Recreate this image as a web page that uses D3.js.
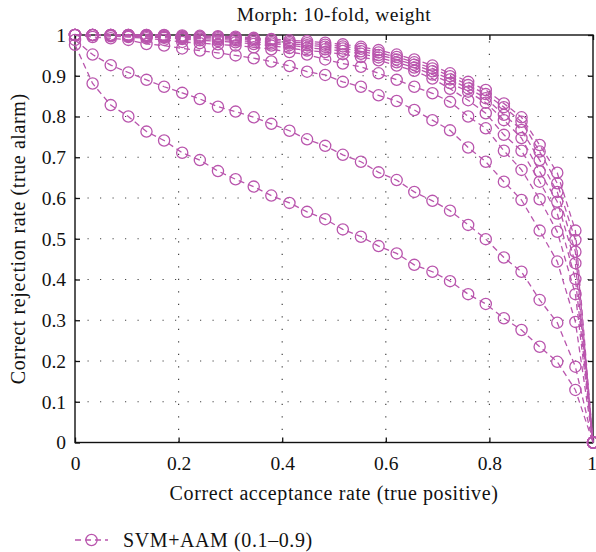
<!DOCTYPE html>
<html>
<head>
<meta charset="utf-8">
<script src="https://cdn.jsdelivr.net/npm/d3@7"></script>
<style>
  body { margin: 0; background: #fff; }
  text { font-family: "Liberation Serif", "Times New Roman", serif; fill: #111; }
</style>
</head>
<body>
<svg id="chart" width="596" height="552"></svg>
<script>
// acceptance rates shared by every curve
const acceptRate = [0, 0.034, 0.069, 0.103, 0.138, 0.172, 0.207, 0.241, 0.276, 0.310,
    0.345, 0.379, 0.414, 0.448, 0.483, 0.517, 0.552, 0.586, 0.621, 0.655,
    0.690, 0.724, 0.759, 0.793, 0.828, 0.862, 0.897, 0.931, 0.966, 1.0]

// rejection rate, one array per weight (lowest curve first)
const rej01 = [0.976, 0.881, 0.828, 0.800, 0.763, 0.741, 0.711, 0.693, 0.666, 0.646,
    0.628, 0.606, 0.588, 0.566, 0.548, 0.523, 0.505, 0.482, 0.464, 0.436,
    0.419, 0.396, 0.364, 0.340, 0.305, 0.276, 0.235, 0.198, 0.129, 0]
const rej02 = [0.988, 0.952, 0.926, 0.908, 0.890, 0.873, 0.858, 0.843, 0.824, 0.812,
    0.798, 0.782, 0.765, 0.744, 0.728, 0.706, 0.689, 0.663, 0.644, 0.615,
    0.593, 0.569, 0.534, 0.499, 0.454, 0.419, 0.350, 0.294, 0.186, 0]
const rej03 = [1.0, 0.995, 0.992, 0.988, 0.978, 0.974, 0.967, 0.962, 0.956, 0.950,
    0.943, 0.935, 0.924, 0.910, 0.902, 0.885, 0.873, 0.852, 0.838, 0.816,
    0.791, 0.766, 0.724, 0.689, 0.640, 0.595, 0.520, 0.444, 0.296, 0]
const rej04 = [1.0, 1.0, 0.997, 0.995, 0.992, 0.988, 0.983, 0.980, 0.977, 0.974,
    0.970, 0.965, 0.958, 0.952, 0.940, 0.930, 0.922, 0.906, 0.890, 0.873,
    0.857, 0.836, 0.800, 0.771, 0.716, 0.669, 0.597, 0.517, 0.364, 0]
const rej05 = [1.0, 1.0, 0.998, 0.997, 0.995, 0.993, 0.990, 0.987, 0.985, 0.982,
    0.978, 0.974, 0.968, 0.962, 0.958, 0.953, 0.946, 0.938, 0.925, 0.912,
    0.893, 0.868, 0.840, 0.808, 0.755, 0.716, 0.640, 0.562, 0.401, 0]
const rej06 = [1.0, 1.0, 1.0, 0.998, 0.997, 0.995, 0.993, 0.991, 0.989, 0.987,
    0.983, 0.979, 0.975, 0.969, 0.965, 0.961, 0.954, 0.945, 0.933, 0.920,
    0.903, 0.882, 0.861, 0.834, 0.791, 0.747, 0.665, 0.591, 0.440, 0]
const rej07 = [1.0, 1.0, 1.0, 1.0, 0.998, 0.997, 0.995, 0.994, 0.992, 0.990,
    0.987, 0.983, 0.979, 0.975, 0.971, 0.967, 0.960, 0.951, 0.940, 0.927,
    0.911, 0.891, 0.869, 0.845, 0.804, 0.767, 0.693, 0.615, 0.468, 0]
const rej08 = [1.0, 1.0, 1.0, 1.0, 1.0, 0.999, 0.997, 0.996, 0.995, 0.993,
    0.990, 0.987, 0.983, 0.980, 0.976, 0.972, 0.966, 0.957, 0.946, 0.933,
    0.918, 0.899, 0.877, 0.855, 0.823, 0.787, 0.714, 0.636, 0.497, 0]
const rej09 = [1.0, 1.0, 1.0, 1.0, 1.0, 1.0, 0.999, 0.998, 0.997, 0.996,
    0.993, 0.990, 0.987, 0.985, 0.981, 0.977, 0.971, 0.963, 0.952, 0.940,
    0.925, 0.906, 0.885, 0.865, 0.832, 0.798, 0.730, 0.662, 0.520, 0]

const xTicks = [0, 0.2, 0.4, 0.6, 0.8, 1]
const yTicks = [0, 0.1, 0.2, 0.3, 0.4, 0.5, 0.6, 0.7, 0.8, 0.9, 1]

const title = "Morph: 10-fold, weight"
const xLabel = "Correct acceptance rate (true positive)"
const yLabel = "Correct rejection rate (true alarm)"
const legendLabel = "SVM+AAM (0.1\u20130.9)"

const seriesList = [rej01, rej02, rej03, rej04, rej05, rej06, rej07, rej08, rej09]

const color = "#b955ad"
const markerR = 5.6
const dash = "6,4"

const svg = d3.select("#chart")
const plot = {left: 75, right: 593, top: 35, bottom: 442.5}

const x = d3.scaleLinear().domain([0, 1]).range([plot.left, plot.right])
const y = d3.scaleLinear().domain([0, 1]).range([plot.bottom, plot.top])

const fmt = d => d === 0 ? "0" : d === 1 ? "1" : d3.format(".1f")(d)

// dotted grid
const grid = svg.append("g")
grid.selectAll(".hgrid")
    .data(yTicks.filter(d => d > 0 && d < 1))
    .join("line")
    .attr("x1", plot.left).attr("x2", plot.right)
    .attr("y1", d => y(d)).attr("y2", d => y(d))
    .attr("stroke", "#444")
    .attr("stroke-width", 1.2)
    .attr("stroke-dasharray", "1.2,11.3")
grid.selectAll(".vgrid")
    .data(xTicks.filter(d => d > 0 && d < 1))
    .join("line")
    .attr("x1", d => x(d)).attr("x2", d => x(d))
    .attr("y1", plot.bottom).attr("y2", plot.top)
    .attr("stroke", "#444")
    .attr("stroke-width", 1.2)
    .attr("stroke-dasharray", "1.2,11.3")

// axes, ticks pointing inward
const xAxis = svg.append("g")
    .attr("transform", `translate(0,${plot.bottom})`)
    .call(d3.axisBottom(x).tickValues(xTicks).tickFormat(fmt).tickSize(-5).tickPadding(14))
svg.append("g")
    .attr("transform", `translate(${plot.left},0)`)
    .call(d3.axisLeft(y).tickValues(yTicks).tickFormat(fmt).tickSize(-5).tickPadding(9))
svg.append("g")
    .attr("transform", `translate(0,${plot.top})`)
    .call(d3.axisTop(x).tickValues(xTicks).tickFormat("").tickSize(-5))
svg.append("g")
    .attr("transform", `translate(${plot.right},0)`)
    .call(d3.axisRight(y).tickValues(yTicks).tickFormat("").tickSize(-5))

svg.selectAll(".domain").remove()
svg.selectAll(".tick line").attr("stroke", "#111").attr("stroke-width", 1.3)
svg.selectAll(".tick text")
    .attr("font-family", "Liberation Serif, serif")
    .attr("font-size", "19.5px")
    .attr("fill", "#111")
// last label sits on the page edge, pull it in a little
xAxis.selectAll(".tick text").filter(d => d === 1).attr("dx", -1.5)

svg.append("rect")
    .attr("x", plot.left).attr("y", plot.top)
    .attr("width", plot.right - plot.left).attr("height", plot.bottom - plot.top)
    .attr("fill", "none")
    .attr("stroke", "#111")
    .attr("stroke-width", 1.4)

// curves
const line = d3.line()
    .x((d, i) => x(acceptRate[i]))
    .y(d => y(d))

const curves = svg.append("g")
seriesList.forEach(vals => {
    const g = curves.append("g")
    g.append("path")
        .datum(vals)
        .attr("d", line)
        .attr("fill", "none")
        .attr("stroke", color)
        .attr("stroke-width", 1.3)
        .attr("stroke-dasharray", dash)
    g.selectAll("circle")
        .data(vals)
        .join("circle")
        .attr("cx", (d, i) => x(acceptRate[i]))
        .attr("cy", d => y(d))
        .attr("r", markerR)
        .attr("fill", "none")
        .attr("stroke", color)
        .attr("stroke-width", 1.3)
})

// texts
svg.append("text")
    .attr("x", (plot.left + plot.right) / 2).attr("y", 21)
    .attr("text-anchor", "middle")
    .attr("font-size", "19.5px")
    .attr("letter-spacing", "0.5px")
    .text(title)

svg.append("text")
    .attr("x", (plot.left + plot.right) / 2).attr("y", 500)
    .attr("text-anchor", "middle")
    .attr("font-size", "20px")
    .attr("letter-spacing", "0.6px")
    .text(xLabel)

svg.append("text")
    .attr("transform", `translate(25,${(plot.top + plot.bottom) / 2}) rotate(-90)`)
    .attr("text-anchor", "middle")
    .attr("font-size", "20px")
    .attr("letter-spacing", "0.6px")
    .text(yLabel)

// legend
const legend = svg.append("g").attr("transform", "translate(0,540)")
legend.append("line")
    .attr("x1", 75).attr("x2", 108)
    .attr("y1", 0).attr("y2", 0)
    .attr("stroke", color)
    .attr("stroke-width", 1.3)
    .attr("stroke-dasharray", dash)
legend.append("circle")
    .attr("cx", 91.5).attr("cy", 0)
    .attr("r", markerR)
    .attr("fill", "none")
    .attr("stroke", color)
    .attr("stroke-width", 1.3)
legend.append("text")
    .attr("x", 123).attr("y", 0)
    .attr("dy", "0.35em")
    .attr("font-size", "20px")
    .attr("letter-spacing", "0.6px")
    .text(legendLabel)
</script>
</body>
</html>
